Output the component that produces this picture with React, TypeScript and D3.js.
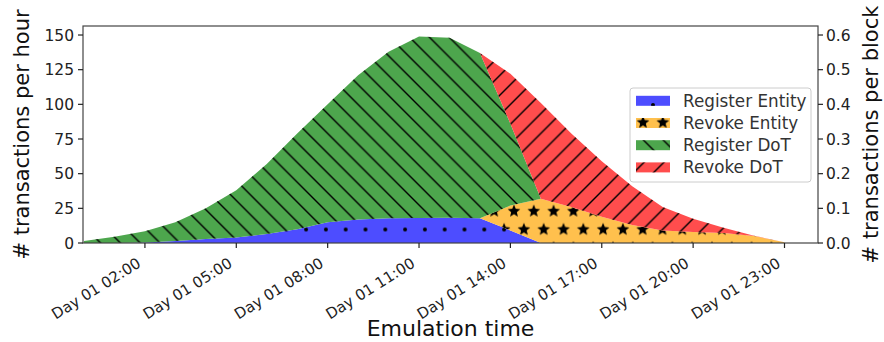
import React from "react";
import * as d3 from "d3";

// hourly samples of the emulation (Day 01)
const times = [
  "00:00", "01:00", "02:00", "03:00", "04:00", "05:00", "06:00", "07:00",
  "08:00", "09:00", "10:00", "11:00", "12:00", "13:00", "14:00", "15:00",
  "16:00", "17:00", "18:00", "19:00", "20:00", "21:00", "22:00", "23:00",
];
const registerEntity = [0, 0, 0.3, 1.5, 2.8, 4, 6.5, 10, 15, 17, 17.8, 18, 18.3, 17.8, 9, 0, 0, 0, 0, 0, 0, 0, 0, 0];
const revokeEntity = [0, 0, 0, 0, 0, 0, 0, 0, 0, 0, 0, 0, 0, 0, 18, 32, 26, 19, 13, 9, 8, 7.2, 5, 0.5];
const registerDoT = [1.5, 4.5, 8.2, 13.5, 22.2, 34, 50.5, 69, 85, 104, 120.2, 131, 129.7, 119.2, 59, 0, 0, 0, 0, 0, 0, 0, 0, 0];
const revokeDoT = [0, 0, 0, 0, 0, 0, 0, 0, 0, 0, 0, 0, 0, 0, 36, 69, 53, 40, 28, 17, 9.5, 3.8, 0.3, 0];

const seriesNames = ["Register Entity", "Revoke Entity", "Register DoT", "Revoke DoT"];
const seriesColors = ["#4d4dff", "#ffc04d", "#4da64d", "#ff4d4d"];
const seriesHatch = ["dots", "stars", "back", "fwd"];

const xTicks = ["02:00", "05:00", "08:00", "11:00", "14:00", "17:00", "20:00", "23:00"];
const leftTicks = [0, 25, 50, 75, 100, 125, 150];
const rightTicks = [0, 0.1, 0.2, 0.3, 0.4, 0.5, 0.6];

const W = 884;
const H = 342;
const margin = { top: 26, right: 66, bottom: 99, left: 83 };
const font = "DejaVu Sans, sans-serif";
const HW = 19.8; // hatch spacing
const HR = 18.3; // hatch row spacing

const parse = d3.timeParse("%H:%M");
const fmt = d3.timeFormat("Day %d %H:%M");

function starPath(cx: number, cy: number, r: number) {
  const pts: string[] = [];
  for (let i = 0; i < 10; i++) {
    const rad = i % 2 === 0 ? r : r * 0.45;
    const a = -Math.PI / 2 + (i * Math.PI) / 5;
    pts.push(`${cx + rad * Math.cos(a)},${cy + rad * Math.sin(a)}`);
  }
  return "M" + pts.join("L") + "Z";
}

function Hatch({ id, kind, ox, oy }: { id: string; kind: string; ox: number; oy: number }) {
  if (kind === "dots" || kind === "stars") {
    const spots = [[0, 0], [HW, 0], [HW / 2, HR], [0, 2 * HR], [HW, 2 * HR]];
    return (
      <pattern id={id} patternUnits="userSpaceOnUse" x={ox} y={oy} width={HW} height={2 * HR}>
        {spots.map(([cx, cy], i) =>
          kind === "dots" ? (
            <circle key={i} cx={cx} cy={cy} r={2} fill="#000" />
          ) : (
            <path key={i} d={starPath(cx, cy, 6.6)} fill="#000" />
          )
        )}
      </pattern>
    );
  }
  const segs =
    kind === "back"
      ? [[-HW - 1, -1, 1, HW + 1], [-1, -1, HW + 1, HW + 1], [HW - 1, -1, 2 * HW + 1, HW + 1]]
      : [[-HW - 1, HW + 1, 1, -1], [-1, HW + 1, HW + 1, -1], [HW - 1, HW + 1, 2 * HW + 1, -1]];
  return (
    <pattern id={id} patternUnits="userSpaceOnUse" x={ox} y={oy} width={HW} height={HW}>
      {segs.map(([x1, y1, x2, y2], i) => (
        <line key={i} x1={x1} y1={y1} x2={x2} y2={y2} stroke="#000" strokeWidth={1.4} />
      ))}
    </pattern>
  );
}

export default function App() {
  const dates = times.map((t) => parse(t) as Date);
  const rows = dates.map((d, i) => ({
    date: d,
    "Register Entity": registerEntity[i],
    "Revoke Entity": revokeEntity[i],
    "Register DoT": registerDoT[i],
    "Revoke DoT": revokeDoT[i],
  }));

  const x = d3
    .scaleTime()
    .domain([d3.timeMinute.offset(dates[0], -2), d3.timeMinute.offset(dates[dates.length - 1], 66)])
    .range([margin.left, W - margin.right]);
  const y = d3.scaleLinear().domain([0, 156.5]).range([H - margin.bottom, margin.top]);
  const y2 = d3.scaleLinear().domain([0, 0.626]).range([H - margin.bottom, margin.top]);

  const stack = d3.stack<any>().keys(seriesNames)(rows);
  const area = d3
    .area<any>()
    .x((d) => x(d.data.date))
    .y0((d) => y(d[0]))
    .y1((d) => y(d[1]));

  const x0 = margin.left;
  const x1 = W - margin.right;
  const yb = H - margin.bottom;
  const yt = margin.top;

  // global hatch origins
  const origins: Record<string, [number, number]> = {
    dots: [484.3, 229.5],
    stars: [484.3, 229.5],
    back: [16, 0],
    fwd: [1, 0],
  };
  const legendOrigins: Record<string, [number, number]> = {
    dots: [653, 105],
    stars: [643, 122.5],
    back: [642, 0],
    fwd: [648, 0],
  };

  const legX = 630;
  const legY = 88;
  const rowY = (i: number) => 100.8 + 22.2 * i;

  return (
    <svg
      width={W}
      height={H}
      style={{ position: "absolute", left: 0, top: 0, background: "#fff" }}
      fontFamily={font}
    >
      <defs>
        <clipPath id="plot">
          <rect x={x0} y={yt} width={x1 - x0} height={yb - yt} />
        </clipPath>
        {seriesHatch.map((k) => (
          <Hatch key={k} id={`h-${k}`} kind={k} ox={origins[k][0]} oy={origins[k][1]} />
        ))}
        {seriesHatch.map((k) => (
          <Hatch key={"l" + k} id={`lh-${k}`} kind={k} ox={legendOrigins[k][0]} oy={legendOrigins[k][1]} />
        ))}
      </defs>

      <g clipPath="url(#plot)">
        {stack.map((s, i) => (
          <g key={s.key}>
            <path d={area(s) || ""} fill={seriesColors[i]} />
            <path d={area(s) || ""} fill={`url(#h-${seriesHatch[i]})`} />
          </g>
        ))}
      </g>

      {/* frame */}
      <rect x={x0} y={yt} width={x1 - x0} height={yb - yt} fill="none" stroke="#444" strokeWidth={1.2} />

      {/* bottom axis */}
      {xTicks.map((t) => {
        const d = parse(t) as Date;
        const px = x(d);
        return (
          <g key={t}>
            <line x1={px} x2={px} y1={yb} y2={yb + 5} stroke="#222" strokeWidth={1.2} />
            <text
              transform={`translate(${px - 3},${yb + 23}) rotate(-32)`}
              textAnchor="end"
              fontSize={15}
              fill="#222"
            >
              {fmt(d)}
            </text>
          </g>
        );
      })}

      {/* left axis */}
      {leftTicks.map((v) => (
        <g key={v}>
          <line x1={x0 - 5} x2={x0} y1={y(v)} y2={y(v)} stroke="#222" strokeWidth={1.2} />
          <text x={x0 - 9} y={y(v) + 5.5} textAnchor="end" fontSize={15.5} fill="#222">
            {v}
          </text>
        </g>
      ))}

      {/* right axis */}
      {rightTicks.map((v) => (
        <g key={v}>
          <line x1={x1} x2={x1 + 5} y1={y2(v)} y2={y2(v)} stroke="#222" strokeWidth={1.2} />
          <text x={x1 + 8} y={y2(v) + 5.5} textAnchor="start" fontSize={15.5} fill="#222">
            {d3.format(".1f")(v)}
          </text>
        </g>
      ))}

      <text
        transform={`translate(29,${(yt + yb) / 2}) rotate(-90)`}
        textAnchor="middle"
        fontSize={21}
        fill="#111"
      >
        # transactions per hour
      </text>
      <text
        transform={`translate(878,${(yt + yb) / 2}) rotate(-90)`}
        textAnchor="middle"
        fontSize={21}
        fill="#111"
      >
        # transactions per block
      </text>
      <text x={(x0 + x1) / 2} y={336} textAnchor="middle" fontSize={22} fill="#111">
        Emulation time
      </text>

      {/* legend */}
      <rect x={legX} y={legY} width={181} height={94} rx={3} fill="#fff" fillOpacity={0.8} stroke="#ccc" />
      {seriesNames.map((n, i) => (
        <g key={n}>
          <rect x={636} y={rowY(i) - 5} width={34} height={10} fill={seriesColors[i]} />
          <rect x={636} y={rowY(i) - 5} width={34} height={10} fill={`url(#lh-${seriesHatch[i]})`} />
          <text x={683} y={rowY(i) + 6} fontSize={16.8} fill="#333">
            {n}
          </text>
        </g>
      ))}
    </svg>
  );
}
